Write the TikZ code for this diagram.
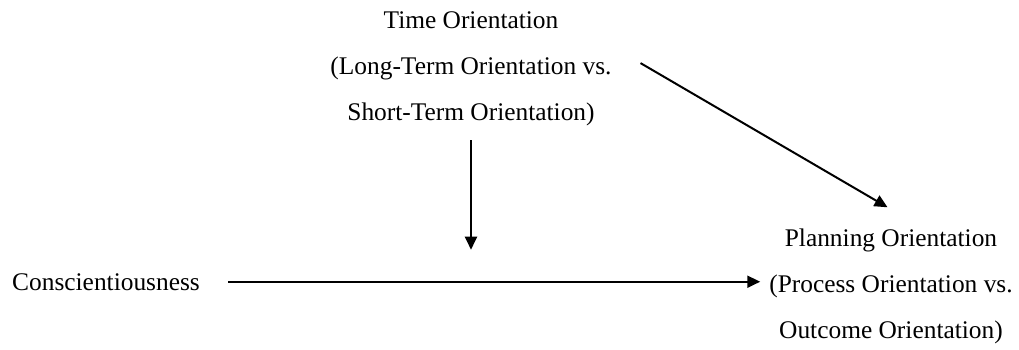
\documentclass[tikz,border=0pt]{standalone}
\usepackage{fontspec}
\setmainfont{Liberation Serif}
\usepackage{tikz}
\usetikzlibrary{arrows.meta,positioning,calc}

\begin{document}
\begin{tikzpicture}[
  x=0.5pt, y=-0.5pt,
  font=\fontsize{12.7pt}{23pt}\selectfont,
  concept/.style={align=center, anchor=base},
  arr/.style={-{Triangle[length=6.5pt, width=6pt]}, line width=1pt, draw=black}
]
\useasboundingbox (0,0) rectangle (1019,349);

% Moderator
\node[concept] (time) at (471,120)
   {Time Orientation\\(Long-Term Orientation vs.\\Short-Term Orientation)};

% Predictor and outcome
\node[concept] (consc) at (106,290) {Conscientiousness};
\node[concept] (plan) at (891,338)
   {Planning Orientation\\(Process Orientation vs.\\Outcome Orientation)};

% Arrows
\draw[arr, shorten <=10.7pt, shorten >=1pt] (consc.east) -- (consc.east -| plan.west);
\draw[arr, shorten <=4pt, shorten >=16pt] (time.south) -- (time.south |- consc.east);
\draw[arr, shorten <=12.7pt, shorten >=2pt] ([yshift=9pt]time.east) -- ([yshift=6pt]plan.north);

\end{tikzpicture}
\end{document}
